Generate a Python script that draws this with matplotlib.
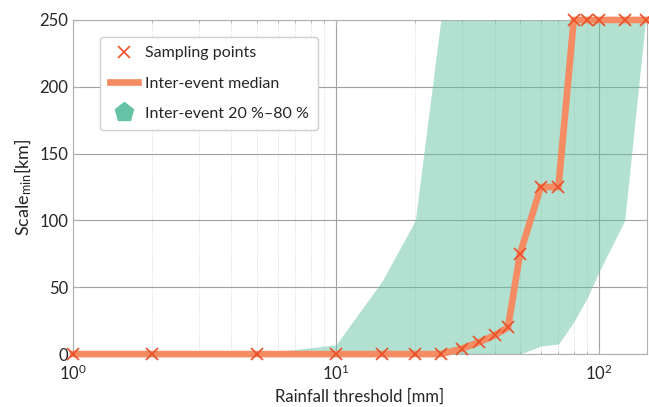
import numpy as np
import matplotlib
matplotlib.use("Agg")
from matplotlib import pyplot as plt
from matplotlib.lines import Line2D
from matplotlib.ticker import LogLocator, NullFormatter

plt.rcParams['font.family'] = ['Lato', 'DejaVu Sans']
plt.rcParams['mathtext.fontset'] = 'custom'
plt.rcParams['mathtext.rm'] = 'Lato'
plt.rcParams['mathtext.it'] = 'Lato:italic'

threshold = [1, 2, 5, 10, 15, 20, 25, 30, 35, 40, 45, 50, 60, 70, 80, 90, 100, 125, 150]
median = [0, 0, 0, 0, 0, 0, 0, 4, 9, 14, 20, 75, 125, 125, 250, 250, 250, 250, 250]
q20 = [0, 0, 0, 0, 0, 0, 0, 0, 0, 0, 0, 0, 6, 7.5, 24, 42, 62, 100, 250]
q80 = [0, 0, 0, 7, 55, 100, 250, 250, 250, 250, 250, 250, 250, 250, 250, 250, 250, 250, 250]

line_col = '#f58b62'
mark_col = '#e8502a'
fill_col = '#66c2a5'
text_col = '#262626'

fig = plt.figure(figsize=(6.49, 4.07), dpi=100)
ax = fig.add_axes([0.1125, 0.130, 0.8845, 0.821])

ax.fill_between(threshold, q20, q80, color=fill_col, alpha=0.5, linewidth=0, zorder=2)
ax.plot(threshold, median, color=line_col, linewidth=4.8, zorder=3, clip_on=False)
ax.plot(threshold, median, linestyle='None', marker='x', markersize=9,
        markeredgewidth=1.2, color=mark_col, zorder=4, clip_on=False)

ax.set_xscale('log')
ax.set_xlim(1, 152)
ax.set_ylim(0, 250)
ax.set_yticks([0, 50, 100, 150, 200, 250])
ax.xaxis.set_minor_locator(LogLocator(base=10, subs=np.arange(2, 10)))
ax.xaxis.set_minor_formatter(NullFormatter())

ax.grid(which='major', color='#a0a0a0', linewidth=0.8, zorder=0)
ax.grid(which='minor', axis='x', color='#c8c8c8', linestyle=(0, (1, 2)), linewidth=0.6, zorder=0)
ax.set_axisbelow(True)

for s in ax.spines.values():
    s.set_color('#b0b0b0')
    s.set_linewidth(0.8)
ax.tick_params(which='both', direction='in', top=True, right=True, colors='#b0b0b0',
               labelcolor=text_col, labelsize=12)
ax.tick_params(which='major', length=4)
ax.tick_params(which='minor', length=2)
ax.tick_params(axis='x', which='major', pad=7)

ax.set_xlabel('Rainfall threshold [mm]', fontsize=12, color=text_col, labelpad=4)
ax.set_ylabel('Scale$_{\\mathrm{min}}$[km]', fontsize=13, color=text_col, labelpad=4)

handles = [
    Line2D([], [], linestyle='None', marker='x', markersize=9, markeredgewidth=1.2, color=mark_col),
    Line2D([], [], color=line_col, linewidth=4.8),
    Line2D([], [], linestyle='None', marker='p', markersize=14, color=fill_col),
]
labels = ['Sampling points', 'Inter-event median', 'Inter-event 20 %\u201380 %']
leg = ax.legend(handles, labels, loc='upper left', bbox_to_anchor=(0.047, 0.95),
                borderaxespad=0, fontsize=11.5, frameon=True, fancybox=True,
                handlelength=1.8, labelspacing=1.0, borderpad=0.6, handletextpad=0.4)
leg.get_frame().set_edgecolor('#cfcfcf')
leg.get_frame().set_linewidth(1.0)
leg.get_frame().set_alpha(1)
for t in leg.get_texts():
    t.set_color(text_col)

fig.savefig('out.png', dpi=100)
